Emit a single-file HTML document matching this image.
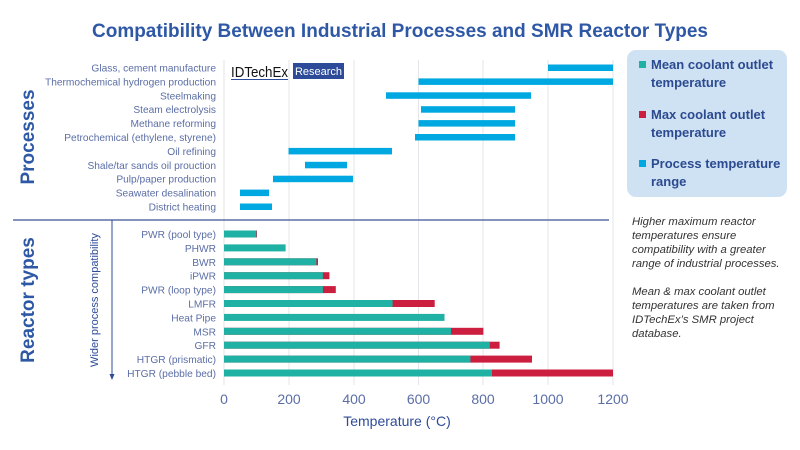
<!DOCTYPE html>
<html><head><meta charset="utf-8"><style>
html,body{margin:0;padding:0;background:#fff;}
svg{display:block;font-family:"Liberation Sans",sans-serif;}
</style></head><body>
<svg width="800" height="450" viewBox="0 0 800 450" xmlns="http://www.w3.org/2000/svg">
<rect width="800" height="450" fill="#fff"/>
<text x="400" y="37" text-anchor="middle" font-size="19.5" font-weight="bold" fill="#2e58a6" textLength="616" lengthAdjust="spacingAndGlyphs">Compatibility Between Industrial Processes and SMR Reactor Types</text>
<g stroke="#e4e4ea" stroke-width="1">
<line x1="224" y1="60" x2="224" y2="385"/><line x1="289" y1="60" x2="289" y2="385"/>
<line x1="354" y1="60" x2="354" y2="385"/><line x1="418.5" y1="60" x2="418.5" y2="385"/>
<line x1="483" y1="60" x2="483" y2="385"/><line x1="548" y1="60" x2="548" y2="385"/>
<line x1="613" y1="60" x2="613" y2="385"/>
</g>
<text x="231" y="77" font-size="15" fill="#111" textLength="57" lengthAdjust="spacingAndGlyphs">IDTechEx</text>
<line x1="231" y1="79.5" x2="288" y2="79.5" stroke="#2e4b9a" stroke-width="1"/>
<rect x="293" y="63" width="51" height="16" fill="#2e4b9a"/>
<text x="318.5" y="75" font-size="11" fill="#fff" text-anchor="middle">Research</text>
<g font-size="10.2" fill="#5b6ea6" text-anchor="end">
<text x="216" y="71.5">Glass, cement manufacture</text>
<text x="216" y="85.4">Thermochemical hydrogen production</text>
<text x="216" y="99.3">Steelmaking</text>
<text x="216" y="113.2">Steam electrolysis</text>
<text x="216" y="127.1">Methane reforming</text>
<text x="216" y="141">Petrochemical (ethylene, styrene)</text>
<text x="216" y="154.9">Oil refining</text>
<text x="216" y="168.8">Shale/tar sands oil prouction</text>
<text x="216" y="182.7">Pulp/paper production</text>
<text x="216" y="196.6">Seawater desalination</text>
<text x="216" y="210.5">District heating</text>
</g>
<g fill="#00a8e1">
<rect x="548" y="64.5" width="65" height="6.5"/>
<rect x="418.5" y="78.4" width="194.5" height="6.5"/>
<rect x="386" y="92.3" width="145" height="6.5"/>
<rect x="421" y="106.2" width="94" height="6.5"/>
<rect x="418.5" y="120.1" width="96.5" height="6.5"/>
<rect x="415" y="134" width="100" height="6.5"/>
<rect x="288.5" y="147.9" width="103.5" height="6.5"/>
<rect x="305" y="161.8" width="42" height="6.5"/>
<rect x="273" y="175.7" width="80" height="6.5"/>
<rect x="240" y="189.6" width="29" height="6.5"/>
<rect x="240" y="203.5" width="32" height="6.5"/>
</g>
<text transform="translate(34,137) rotate(-90)" text-anchor="middle" font-size="19" font-weight="bold" fill="#2e58a6">Processes</text>
<text transform="translate(34,300) rotate(-90)" text-anchor="middle" font-size="19" font-weight="bold" fill="#2e58a6">Reactor types</text>
<line x1="13" y1="220" x2="609" y2="220" stroke="#5b6ea6" stroke-width="1.5"/>
<line x1="112" y1="220" x2="112" y2="377" stroke="#2e4b9a" stroke-width="1"/>
<path d="M109.5,374 L112,380 L114.5,374 Z" fill="#2e4b9a"/>
<text transform="translate(98,300) rotate(-90)" text-anchor="middle" font-size="11" fill="#2e4b9a">Wider process compatibility</text>
<g font-size="10.2" fill="#5b6ea6" text-anchor="end">
<text x="216" y="238">PWR (pool type)</text>
<text x="216" y="251.9">PHWR</text>
<text x="216" y="265.8">BWR</text>
<text x="216" y="279.7">iPWR</text>
<text x="216" y="293.6">PWR (loop type)</text>
<text x="216" y="307.5">LMFR</text>
<text x="216" y="321.4">Heat Pipe</text>
<text x="216" y="335.3">MSR</text>
<text x="216" y="349.2">GFR</text>
<text x="216" y="363.1">HTGR (prismatic)</text>
<text x="216" y="377">HTGR (pebble bed)</text>
</g>
<g>
<rect x="224" y="230.5" width="33" height="7" fill="#cc1f3f"/><rect x="224" y="230.5" width="32.4" height="7" fill="#1fb1a3"/>
<rect x="224" y="244.4" width="61.6" height="7" fill="#1fb1a3"/>
<rect x="224" y="258.3" width="94" height="7" fill="#cc1f3f"/><rect x="224" y="258.3" width="92.4" height="7" fill="#1fb1a3"/>
<rect x="224" y="272.2" width="105.4" height="7" fill="#cc1f3f"/><rect x="224" y="272.2" width="98.9" height="7" fill="#1fb1a3"/>
<rect x="224" y="286.1" width="111.8" height="7" fill="#cc1f3f"/><rect x="224" y="286.1" width="98.9" height="7" fill="#1fb1a3"/>
<rect x="224" y="300" width="210.7" height="7" fill="#cc1f3f"/><rect x="224" y="300" width="168.6" height="7" fill="#1fb1a3"/>
<rect x="224" y="313.9" width="220.5" height="7" fill="#1fb1a3"/>
<rect x="224" y="327.8" width="259.4" height="7" fill="#cc1f3f"/><rect x="224" y="327.8" width="227" height="7" fill="#1fb1a3"/>
<rect x="224" y="341.7" width="275.6" height="7" fill="#cc1f3f"/><rect x="224" y="341.7" width="265.8" height="7" fill="#1fb1a3"/>
<rect x="224" y="355.6" width="308" height="7" fill="#cc1f3f"/><rect x="224" y="355.6" width="246.4" height="7" fill="#1fb1a3"/>
<rect x="224" y="369.5" width="389" height="7" fill="#cc1f3f"/><rect x="224" y="369.5" width="268" height="7" fill="#1fb1a3"/>
</g>
<g font-size="14" fill="#5b6ea6" text-anchor="middle">
<text x="224" y="404">0</text><text x="289" y="404">200</text><text x="354" y="404">400</text>
<text x="418.5" y="404">600</text><text x="483" y="404">800</text><text x="548" y="404">1000</text><text x="613" y="404">1200</text>
</g>
<text x="397" y="426" text-anchor="middle" font-size="14" fill="#2e4b9a">Temperature (°C)</text>
<rect x="627" y="50" width="160" height="147" rx="9" fill="#cfe2f4"/>
<g font-size="13" font-weight="bold" fill="#2b4a8f">
<rect x="639" y="61" width="7" height="7" fill="#1fb1a3"/>
<text x="651" y="69">Mean coolant outlet</text><text x="651" y="87">temperature</text>
<rect x="639" y="111" width="7" height="7" fill="#cc1f3f"/>
<text x="651" y="119">Max coolant outlet</text><text x="651" y="137">temperature</text>
<rect x="639" y="160" width="7" height="7" fill="#00a8e1"/>
<text x="651" y="168">Process temperature</text><text x="651" y="186">range</text>
</g>
<g font-size="11.3" font-style="italic" fill="#333">
<text x="632" y="225">Higher maximum reactor</text>
<text x="632" y="239">temperatures ensure</text>
<text x="632" y="253">compatibility with a greater</text>
<text x="632" y="267">range of industrial processes.</text>
<text x="632" y="295">Mean &amp; max coolant outlet</text>
<text x="632" y="309">temperatures are taken from</text>
<text x="632" y="323">IDTechEx’s SMR project</text>
<text x="632" y="337">database.</text>
</g>
</svg>
</body></html>
